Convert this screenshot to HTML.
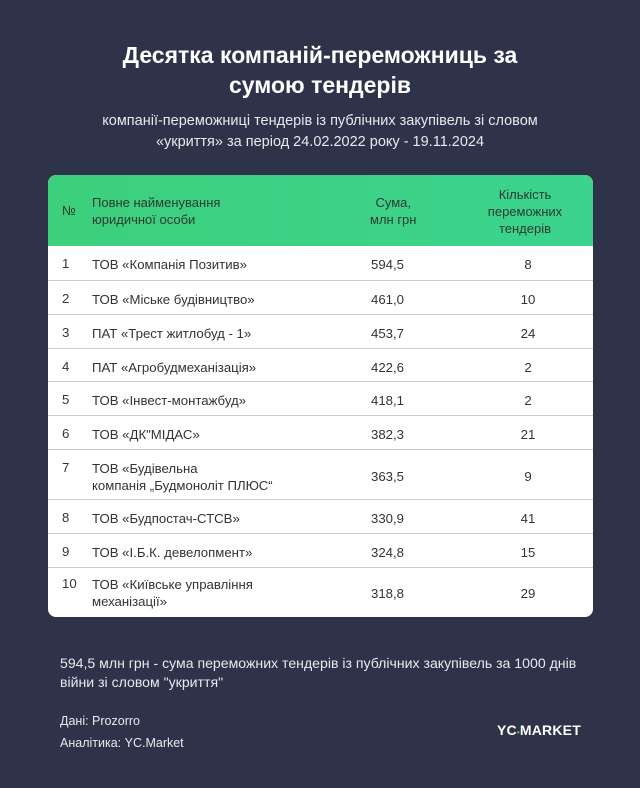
<!DOCTYPE html><html><head><meta charset="utf-8"><style>
body{margin:0;width:640px;height:788px;background:#2f3349;font-family:"Liberation Sans","Noto Sans CJK SC",sans-serif;position:relative;overflow:hidden;color:#fff}
.a{position:absolute}
h1{position:absolute;top:40px;left:0;width:640px;text-align:center;margin:0;font-size:23px;line-height:30px;font-weight:bold}
.sub{top:111px;left:0;width:640px;text-align:center;font-size:14.5px;line-height:21px;color:#e8e9ef}
.tbl{left:48px;top:175px;width:545px;height:442px;background:#fff;border-radius:8px;overflow:hidden;color:#333}
.hd{position:absolute;left:0;top:0;width:545px;height:71px;background:linear-gradient(90deg,#3cd07c,#3bd38e);font-size:13px;line-height:17px;color:#2b3a33}
.r{position:absolute;left:0;width:545px;border-top:1.5px solid #c9ccd6;font-size:13.2px;line-height:17px;color:#333}
.n{position:absolute;left:14px}.nm{position:absolute;left:44px}.s{position:absolute;left:323px}.c{position:absolute;left:440px;width:80px;text-align:center}
.ft{font-size:14px;line-height:19px;color:#e8e9ef}
</style></head><body>
<h1>Десятка компаній-переможниць за<br>сумою тендерів</h1>
<div class="a sub">компанії-переможниці тендерів із публічних закупівель зі словом<br>«укриття» за період 24.02.2022 року - 19.11.2024</div>
<div class="a tbl">
<div class="hd"><span class="n" style="top:27px">№</span><span class="nm" style="top:19px">Повне найменування<br>юридичної особи</span><span class="s" style="top:19px;left:322px;text-align:center">Сума,<br>млн грн</span><span class="c" style="top:11px;left:437px">Кількість<br>переможних<br>тендерів</span></div>
<div class="r" style="top:71px;height:34px;border-top:none"><span class="n" style="top:9px">1</span><span class="nm" style="top:10px">ТОВ «Компанія Позитив»</span><span class="s" style="top:10px">594,5</span><span class="c" style="top:10px">8</span></div>
<div class="r" style="top:105px;height:34px"><span class="n" style="top:9px">2</span><span class="nm" style="top:10px">ТОВ «Міське будівництво»</span><span class="s" style="top:10px">461,0</span><span class="c" style="top:10px">10</span></div>
<div class="r" style="top:139px;height:34px"><span class="n" style="top:9px">3</span><span class="nm" style="top:10px">ПАТ «Трест житлобуд - 1»</span><span class="s" style="top:10px">453,7</span><span class="c" style="top:10px">24</span></div>
<div class="r" style="top:173px;height:33px"><span class="n" style="top:9px">4</span><span class="nm" style="top:10px">ПАТ «Агробудмеханізація»</span><span class="s" style="top:10px">422,6</span><span class="c" style="top:10px">2</span></div>
<div class="r" style="top:206px;height:34px"><span class="n" style="top:9px">5</span><span class="nm" style="top:10px">ТОВ «Інвест-монтажбуд»</span><span class="s" style="top:10px">418,1</span><span class="c" style="top:10px">2</span></div>
<div class="r" style="top:240px;height:34px"><span class="n" style="top:9px">6</span><span class="nm" style="top:10px">ТОВ «ДК"МІДАС»</span><span class="s" style="top:10px">382,3</span><span class="c" style="top:10px">21</span></div>
<div class="r" style="top:274px;height:50px"><span class="n" style="top:9px">7</span><span class="nm" style="top:10px">ТОВ «Будівельна<br>компанія „Будмоноліт ПЛЮС“</span><span class="s" style="top:18px">363,5</span><span class="c" style="top:18px">9</span></div>
<div class="r" style="top:324px;height:34px"><span class="n" style="top:9px">8</span><span class="nm" style="top:10px">ТОВ «Будпостач-СТСВ»</span><span class="s" style="top:10px">330,9</span><span class="c" style="top:10px">41</span></div>
<div class="r" style="top:358px;height:34px"><span class="n" style="top:9px">9</span><span class="nm" style="top:10px">ТОВ «І.Б.К. девелопмент»</span><span class="s" style="top:10px">324,8</span><span class="c" style="top:10px">15</span></div>
<div class="r" style="top:392px;height:50px"><span class="n" style="top:7px">10</span><span class="nm" style="top:8px">ТОВ «Київське управління<br>механізації»</span><span class="s" style="top:17px">318,8</span><span class="c" style="top:17px">29</span></div>
</div>
<div class="a ft" style="left:60px;top:654px;font-size:14.1px">594,5 млн грн - сума переможних тендерів із публічних закупівель за 1000 днів<br>війни зі словом "укриття"</div>
<div class="a ft" style="left:60px;top:710px;font-size:12.5px;line-height:22px">Дані: Prozorro<br>Аналітика: YC.Market</div>
<div class="a" style="left:497px;top:722px;font-size:14px;font-weight:bold;letter-spacing:0.2px">YC<span style="color:#3cd07c;font-size:8px">•</span>MARKET</div>
</body></html>
